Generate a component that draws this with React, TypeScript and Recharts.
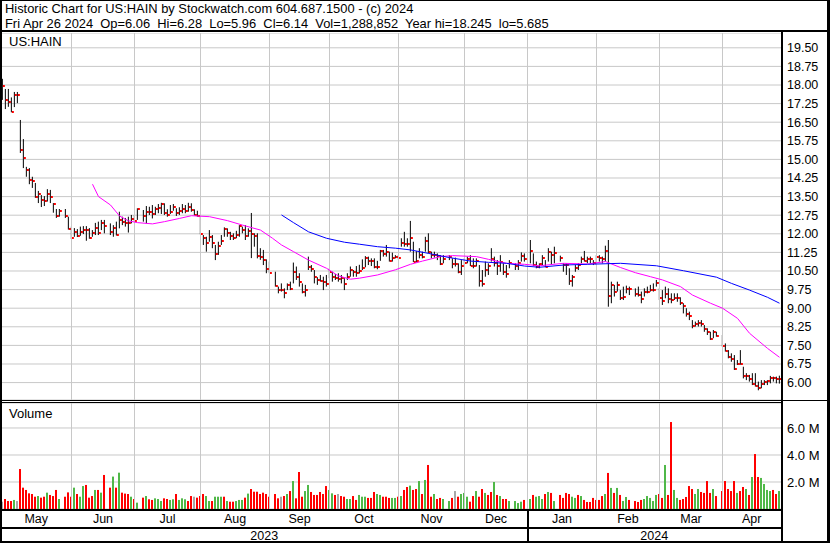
import React from "react";
import { ComposedChart, Bar, Line, XAxis, YAxis, CartesianGrid, ReferenceLine } from "recharts";

// one slot per weekday: 0 = Mon May 1 2023 ... 259 = Fri Apr 26 2024, null on US market holidays
const highs = [
  18.25, 17.84, 17.84, 17.5, 17.72, 17.72, 16.59, 15.82, 14.7, 14.65,
  14.3, 14.05, 13.73, 13.56, 13.52, 13.8, 13.77, 13.24, 13.0, 13.0,
  null, 13.0, 12.69, 12.29, 12.23, 12.19, 12.29, 12.31, 12.31, 12.23,
  12.15, 12.44, 12.49, 12.56, 12.56, null, 12.42, 12.35, 12.49, 12.89,
  12.69, 12.64, 12.69, 12.76, 12.76, 13.03, null, 12.96, 13.12, 13.09,
  13.16, 13.09, 13.2, 13.25, 13.23, 12.99, 13.16, 13.2, 13.03, 13.07,
  13.2, 13.16, 13.25, 13.23, 12.99, 12.93, 12.76, 11.95, 11.88, 12.15,
  11.95, 11.55, 11.68, 11.95, 12.26, 12.22, 12.08, 12.02, 12.12, 12.35,
  12.29, 12.35, 12.22, 12.84, 12.02, 12.02, 11.42, 11.35, 10.97, 10.88,
  null, 10.47, 9.87, 10.0, 9.8, 10.0, 10.07, 10.84, 10.68, 10.41,
  10.0, 9.94, 11.08, 10.74, 10.54, 10.25, 10.34, 10.27, 10.34, 10.61,
  10.47, 10.38, 10.41, 10.34, 10.21, 10.41, 10.68, 10.54, 10.7, 10.75,
  10.97, 11.1, 11.08, 11.01, 11.01, 10.91, 11.35, 11.35, 11.55, 11.28,
  11.24, 11.14, 11.14, 11.82, 12.08, 11.82, 12.52, 11.68, 11.3, 11.42,
  11.28, 11.88, 12.02, 11.28, 11.28, 11.21, 11.14, 11.14, null, 11.14,
  11.01, 11.04, 10.81, 10.94, 11.01, 11.08, 11.14, 11.01, 11.01, 10.74,
  10.54, 10.88, 10.81, 11.42, 11.08, 10.94, 11.14, 10.81, 10.74, 10.94,
  null, 10.81, 10.94, 11.25, 11.21, null, 11.75, 11.21, 10.88, 10.81,
  11.14, 10.94, 11.42, 11.28, 11.48, null, 11.12, 10.81, 10.81, 10.61,
  10.34, 10.74, 10.81, 11.08, 11.31, 11.08, 11.08, 10.94, 11.14, 11.14,
  11.08, 11.52, 11.75, 10.07, 9.94, 10.07, 9.73, 9.87, 9.91, 9.87,
  null, 9.8, 9.87, 9.67, 9.8, 9.87, 9.94, 10.0, 10.14, 9.8,
  9.73, 9.87, 9.8, 9.6, 9.6, 9.6, 9.44, 9.2, 9.0, 8.86,
  8.52, 8.46, 8.52, 8.52, 8.32, 8.19, 8.05, 8.12, 8.05, null,
  7.92, 7.58, 7.31, 7.18, 7.11, 6.91, 7.31, 6.64, 6.38, 6.31,
  6.38, 6.38, 6.04, 6.1, 6.1, 6.1, 6.27, 6.24, 6.24, 6.28,
];

const lows = [
  17.4, 17.03, 17.12, 16.9, 17.11, 17.27, 15.26, 14.65, 14.3, 14.0,
  13.85, 13.45, 13.24, 13.08, 13.12, 13.3, 13.24, 12.85, 12.64, 12.69,
  null, 12.64, 12.17, 11.79, 11.88, 11.87, 11.92, 11.99, 11.72, 11.8,
  11.88, 11.95, 11.95, 12.15, 12.02, null, 11.95, 11.88, 11.93, 12.22,
  12.35, 12.29, 12.05, 12.42, 12.49, 12.56, null, 12.49, 12.42, 12.76,
  12.62, 12.76, 12.83, 12.8, 12.76, 12.69, 12.8, 12.93, 12.72, 12.76,
  12.83, 12.83, 12.89, 12.89, 12.74, 12.69, 11.98, 11.55, 11.28, 11.68,
  11.42, 10.94, 11.15, 11.55, 11.88, 11.88, 11.75, 11.75, 11.82, 11.88,
  12.02, 11.75, 11.88, 11.02, 11.48, 11.01, 10.95, 10.74, 10.41, 10.41,
  null, 9.87, 9.6, 9.67, 9.4, 9.73, 9.73, 10.0, 10.14, 9.87,
  9.6, 9.47, 10.54, 10.47, 10.0, 9.94, 10.07, 9.73, 9.87, 10.21,
  10.07, 10.14, 10.07, 10.0, 9.73, 10.14, 10.27, 10.27, 10.27, 10.4,
  10.54, 10.65, 10.74, 10.7, 10.61, 10.57, 10.91, 11.08, 11.08, 10.88,
  10.88, 11.01, 10.97, 11.48, 11.48, 11.48, 11.28, 10.86, 10.85, 11.01,
  11.01, 11.28, 11.21, 11.01, 11.04, 10.94, 10.74, 10.81, null, 10.94,
  10.61, 10.68, 10.41, 10.34, 10.74, 10.81, 10.7, 10.61, 10.68, 9.87,
  9.87, 10.27, 10.34, 10.88, 10.68, 10.34, 10.47, 10.34, 10.23, 10.61,
  null, 10.54, 10.54, 10.88, 10.88, null, 10.81, 10.7, 10.61, 10.61,
  10.74, 10.65, 10.88, 10.74, 10.81, null, 10.88, 10.47, 10.34, 9.94,
  9.87, 10.47, 10.54, 10.81, 10.88, 10.81, 10.81, 10.74, 10.74, 10.88,
  10.81, 10.88, 9.06, 9.2, 9.47, 9.67, 9.33, 9.33, 9.6, 9.53,
  null, 9.47, 9.47, 9.2, 9.47, 9.6, 9.67, 9.67, 9.87, 9.33,
  9.13, 9.4, 9.2, 9.2, 9.33, 9.26, 9.13, 8.79, 8.66, 8.52,
  8.19, 8.26, 8.26, 8.26, 8.05, 7.92, 7.72, 7.79, 7.85, null,
  7.45, 7.25, 6.98, 6.84, 6.51, 6.71, 6.72, 6.17, 6.1, 6.04,
  5.9, 5.84, 5.69, 5.77, 5.9, 5.9, 5.97, 6.04, 5.97, 5.96,
];

const closes = [
  17.96, 17.4, 17.31, 16.91, 17.58, 17.58, 15.38, 15.06, 14.59, 14.17,
  14.11, 13.5, 13.6, 13.36, 13.32, 13.6, 13.5, 13.19, 12.73, 12.93,
  null, 12.7, 12.19, 11.85, 12.09, 11.93, 12.07, 12.15, 12.15, 11.83,
  12.03, 12.25, 12.05, 12.44, 12.31, null, 12.07, 12.25, 11.97, 12.56,
  12.48, 12.42, 12.42, 12.6, 12.52, 13.01, null, 12.73, 12.89, 12.88,
  12.8, 12.98, 13.04, 13.2, 12.82, 12.74, 12.86, 13.1, 12.82, 12.9,
  13.0, 12.92, 13.1, 12.96, 12.76, 12.7, 12.01, 11.85, 11.61, 11.87,
  11.61, 11.2, 11.52, 11.69, 12.19, 12.04, 11.91, 11.85, 11.95, 12.31,
  12.15, 11.93, 12.13, 12.01, 11.93, 11.11, 11.06, 10.94, 10.58, 10.43,
  null, 9.9, 9.73, 9.73, 9.62, 9.92, 9.77, 10.44, 10.27, 10.04,
  9.67, 9.75, 10.67, 10.6, 10.26, 10.14, 10.1, 10.04, 9.97, 10.44,
  10.24, 10.2, 10.17, 10.21, 9.97, 10.24, 10.55, 10.44, 10.4, 10.5,
  10.64, 11.04, 10.91, 10.91, 10.67, 10.67, 11.31, 11.2, 11.25, 10.91,
  11.02, 11.06, 11.04, 11.62, 11.6, 11.6, 11.84, 10.88, 10.9, 11.14,
  11.08, 11.69, 11.25, 11.14, 11.14, 11.1, 10.79, 11.0, null, 11.06,
  10.78, 10.78, 10.47, 10.7, 10.84, 10.98, 10.72, 10.7, 10.9, 10.1,
  9.98, 10.56, 10.7, 10.98, 10.82, 10.7, 10.86, 10.44, 10.38, 10.82,
  null, 10.7, 10.84, 11.1, 10.98, null, 11.29, 10.73, 10.68, 10.78,
  11.04, 10.68, 11.25, 11.15, 11.22, null, 11.04, 10.73, 10.73, 10.08,
  10.24, 10.62, 10.73, 10.98, 10.92, 10.98, 10.98, 10.84, 11.08, 11.04,
  10.98, 11.31, 9.5, 9.94, 9.65, 9.92, 9.43, 9.45, 9.79, 9.77,
  null, 9.57, 9.55, 9.39, 9.65, 9.65, 9.73, 9.73, 10.0, 9.43,
  9.3, 9.57, 9.37, 9.35, 9.43, 9.43, 9.2, 9.09, 8.76, 8.67,
  8.29, 8.36, 8.42, 8.36, 8.16, 8.02, 7.76, 8.02, 7.89, null,
  7.48, 7.27, 7.03, 6.96, 6.53, 6.75, 6.75, 6.25, 6.25, 6.14,
  5.94, 5.86, 5.8, 5.94, 6.03, 6.06, 6.18, 6.18, 6.14, 6.14,
];

// volume in millions of shares
const volumes = [
  0.54, 0.74, 0.59, 0.59, 0.67, 0.59, 2.96, 1.58, 1.41, 1.16,
  1.11, 0.91, 0.96, 0.84, 0.91, 1.21, 1.04, 0.96, 1.41, 0.74,
  null, 0.91, 1.23, 0.91, 1.58, 1.11, 0.91, 1.7, 1.78, 0.84,
  0.96, 1.41, 1.41, 1.21, 2.52, null, 1.58, 2.4, 1.58, 2.69,
  1.21, 1.14, 1.11, 0.91, 0.74, 0.47, null, 0.84, 0.96, 0.72,
  0.67, 0.79, 0.74, 0.59, 0.79, 0.74, 0.67, 0.72, 1.11, 0.67,
  0.79, 0.72, 0.59, 0.96, 0.91, 0.84, 0.96, 1.11, 0.96, 0.59,
  0.59, 0.91, 0.91, 0.91, 0.91, 0.59, 0.54, 0.54, 0.59, 0.67,
  0.67, 0.84, 1.14, 1.48, 1.28, 1.28, 1.11, 1.21, 1.11, 0.91,
  null, 1.11, 0.79, 0.91, 0.96, 1.11, 1.33, 2.07, 0.79, 2.74,
  0.91, 1.33, 1.78, 1.26, 1.04, 1.04, 1.26, 1.11, 1.7, 1.41,
  1.16, 1.04, 1.11, 0.96, 0.91, 0.74, 0.74, 0.96, 0.67, 1.04,
  0.91, 0.91, 0.82, 0.82, 1.26, 1.11, 1.04, 0.91, 0.91, 0.82,
  0.82, 0.82, 0.91, 0.96, 1.41, 1.63, 1.73, 1.41, 1.48, 2.07,
  1.11, 2.15, 3.26, 0.91, 1.11, 0.74, 0.82, 0.74, null, 0.59,
  0.82, 1.33, 0.91, 1.11, 1.19, 0.91, 0.54, 0.96, 1.33, 0.91,
  1.48, 1.19, 1.04, 1.26, 2.0, 1.04, 0.96, 0.74, 0.74, 0.59,
  null, 0.59, 0.44, 0.54, 0.67, null, 0.74, 1.04, 0.91, 0.96,
  0.74, 1.11, 1.26, 1.19, 0.59, null, 1.04, 0.82, 1.19, 1.11,
  0.91, 0.82, 1.04, 0.96, 0.67, 0.52, 0.52, 0.82, 0.67, 0.67,
  0.96, 1.11, 2.67, 1.56, 1.19, 1.56, 1.04, 0.59, 0.89, 0.67,
  null, 0.59, 0.52, 0.67, 0.74, 0.96, 0.82, 0.59, 1.04, 1.11,
  0.82, 3.26, 1.04, 6.44, 1.41, 0.82, 0.67, 0.74, 0.89, 1.7,
  1.48, 1.11, 1.48, 1.26, 1.19, 2.07, 1.19, 1.48, 0.96, null,
  1.33, 2.07, 1.48, 1.33, 2.07, 1.19, 1.33, 1.63, 1.48, 1.04,
  2.37, 4.07, 2.37, 2.3, 1.85, 1.41, 1.33, 1.41, 1.11, 1.33,
];

// u = up day, d = down day, n = unchanged, - = no trading
const volumeMoves = [
  "ndddundddd", "dduddudddu", "-ddduduudd", "dudud-dudu", "dddudu-dud",
  "duuudduudu", "uuddnddduu", "duuududduu", "ududdddddd", "-ddndududd",
  "duuddddddu", "udndduuddu", "uuddduuddd", "uududduddu", "dudduddu-u",
  "dnduuuddud", "duddududdu", "-uuud-uduu", "ududu-dddd", "uududddddd",
  "dudududuud", "-ddduuuuud", "dudduudddd", "duuddddud-", "ddddduddud",
  "udduuuuddu",
].join("");

// moving averages: [weekday index, value]
const fastAverage: [number, number][] = [
  [30, 14.0], [32, 13.5], [36, 13.16], [39, 12.72], [42, 12.52], [45, 12.45],
  [50, 12.4], [54, 12.49], [59, 12.62], [63, 12.73], [69, 12.69], [75, 12.53],
  [80, 12.35], [86, 12.15], [90, 11.82], [93, 11.55], [97, 11.28], [102, 10.94],
  [108, 10.61], [112, 10.3], [116, 10.17], [119, 10.21], [125, 10.34], [131, 10.55],
  [136, 10.77], [140, 10.9], [146, 11.08], [150, 11.12], [158, 11.08], [162, 10.97],
  [168, 10.81], [174, 10.77], [179, 10.71], [187, 10.81], [195, 10.78], [201, 10.88],
  [206, 10.64], [211, 10.43], [216, 10.27], [220, 10.14], [226, 9.87], [230, 9.53],
  [236, 9.2], [240, 9.0], [245, 8.59], [249, 7.99], [255, 7.38], [259, 7.02],
];

const slowAverage: [number, number][] = [
  [93, 12.76], [97, 12.45], [102, 12.08], [108, 11.82], [114, 11.66], [119, 11.58],
  [125, 11.48], [131, 11.42], [136, 11.35], [142, 11.21], [149, 11.04], [156, 10.9],
  [162, 10.85], [168, 10.81], [174, 10.7], [179, 10.65], [187, 10.74], [195, 10.77],
  [206, 10.81], [218, 10.71], [227, 10.51], [238, 10.25], [243, 10.0], [249, 9.73],
  [255, 9.44], [259, 9.2],
];

const priceTicks = [
  6.0, 6.75, 7.5, 8.25, 9.0, 9.75, 10.5, 11.25, 12.0, 12.75,
  13.5, 14.25, 15.0, 15.75, 16.5, 17.25, 18.0, 18.75, 19.5,
];
const volumeTicks = [2, 4, 6];

const monthNames = ["May", "Jun", "Jul", "Aug", "Sep", "Oct", "Nov", "Dec", "Jan", "Feb", "Mar", "Apr"];
const monthLines = [23, 44, 66, 89, 109, 132, 154, 175, 198, 219, 240];
const yearNames = ["2023", "2024"];
const yearBounds = [-0.5, 175, 259.5];

const title = "Historic Chart for US:HAIN by Stockwatch.com 604.687.1500 - (c) 2024";
const quoteLine = "Fri Apr 26 2024  Op=6.06  Hi=6.28  Lo=5.96  Cl=6.14  Vol=1,288,852  Year hi=18.245  lo=5.685";

const FONT = "'Liberation Sans', Arial, sans-serif";
const GRID = "#c8c8c8";
const X_DOMAIN: [number, number] = [-0.5, 259.5];

const rows = highs.map((h, i) => ({
  i,
  range: h == null ? null : [lows[i], h],
  hi: h,
  lo: lows[i],
  cl: closes[i],
  vol: volumes[i],
  move: volumeMoves[i],
  fast: undefined as number | undefined,
  slow: undefined as number | undefined,
}));
fastAverage.forEach(([i, v]) => (rows[i].fast = v));
slowAverage.forEach(([i, v]) => (rows[i].slow = v));

const bounds = [X_DOMAIN[0], ...monthLines, X_DOMAIN[1]];
const monthMid = monthNames.map((_, k) => (bounds[k] + bounds[k + 1]) / 2);

// pixel x of an index (plot runs 1..781, 3px per weekday)
const px = (i: number) => 1 + (i - X_DOMAIN[0]) * 3;

function PriceBar(props: any) {
  const { x, y, width, height, payload } = props;
  if (!payload || payload.hi == null) return null;
  const top = Math.min(y, y + height);
  const bot = Math.max(y, y + height);
  const cx = x + width / 2;
  const span = payload.hi - payload.lo;
  const cy = span > 0 ? top + ((payload.hi - payload.cl) / span) * (bot - top) : top;
  return (
    <g>
      <rect x={cx - 0.5} y={top} width={1} height={Math.max(1, bot - top)} fill="#000" />
      <rect x={cx + 0.5} y={Math.round(cy) - 1} width={2} height={2} fill="#ff0000" />
    </g>
  );
}

function VolumeBar(props: any) {
  const { x, y, width, height, payload } = props;
  if (!payload || payload.vol == null) return null;
  const cx = x + width / 2;
  const fill = payload.move === "u" ? "#50b848" : payload.move === "d" ? "#ff0000" : "#a8a8a8";
  return <rect x={Math.round(cx - 1.5)} y={y} width={2} height={height} fill={fill} />;
}

export default function App() {
  const tickStyle = { fill: "#000", fontSize: 12.5, fontFamily: FONT };
  return (
    <div style={{ position: "absolute", left: 0, top: 0, width: 830, height: 543, background: "#fff", overflow: "hidden", fontFamily: FONT }}>
      <div style={{ position: "absolute", left: 0, top: 33 }}>
        <ComposedChart width={830} height={367} data={rows} margin={{ top: 0, right: 0, bottom: 0, left: 1 }}>
          <XAxis type="number" dataKey="i" domain={X_DOMAIN} allowDataOverflow hide />
          <YAxis
            orientation="right"
            domain={[5.298, 20.097]}
            allowDataOverflow
            ticks={priceTicks}
            interval={0}
            width={49}
            axisLine={false}
            tickLine={false}
            tickSize={0}
            tickMargin={6}
            tick={tickStyle}
            tickFormatter={(v: number) => v.toFixed(2)}
          />
          <CartesianGrid vertical={false} stroke={GRID} />
          {monthLines.map((m) => (
            <ReferenceLine key={m} x={m} stroke={GRID} />
          ))}
          <Bar dataKey="range" barSize={3} shape={<PriceBar />} isAnimationActive={false} />
          <Line type="linear" dataKey="fast" stroke="#ff00ff" strokeWidth={1} dot={false} activeDot={false} connectNulls isAnimationActive={false} />
          <Line type="linear" dataKey="slow" stroke="#0000ff" strokeWidth={1} dot={false} activeDot={false} connectNulls isAnimationActive={false} />
        </ComposedChart>
      </div>

      <div style={{ position: "absolute", left: 0, top: 403 }}>
        <ComposedChart width={830} height={124} data={rows} margin={{ top: 0, right: 0, bottom: 0, left: 1 }}>
          <XAxis
            type="number"
            dataKey="i"
            domain={X_DOMAIN}
            allowDataOverflow
            ticks={monthMid}
            interval={0}
            height={18}
            axisLine={false}
            tickLine={false}
            tickSize={0}
            tickMargin={5}
            tick={tickStyle}
            tickFormatter={(v: number) => monthNames[monthMid.indexOf(v)] ?? ""}
          />
          <YAxis
            orientation="right"
            domain={[0, 7.85]}
            allowDataOverflow
            ticks={volumeTicks}
            interval={0}
            width={49}
            axisLine={false}
            tickLine={false}
            tickSize={0}
            tickMargin={6}
            tick={{ ...tickStyle, fontSize: 13 }}
            tickFormatter={(v: number) => `${v.toFixed(1)} M`}
          />
          <CartesianGrid vertical={false} stroke={GRID} />
          {monthLines.map((m) => (
            <ReferenceLine key={m} x={m} stroke={GRID} />
          ))}
          <Bar dataKey="vol" barSize={2} shape={<VolumeBar />} isAnimationActive={false} />
        </ComposedChart>
      </div>

      <svg width={830} height={543} style={{ position: "absolute", left: 0, top: 0, pointerEvents: "none" }}>
        <g fill="#000">
          <rect x={0} y={0} width={830} height={1} />
          <rect x={0} y={30} width={830} height={2} />
          <rect x={0} y={0} width={2} height={543} />
          <rect x={827} y={0} width={3} height={543} />
          <rect x={781} y={30} width={2} height={513} />
          <rect x={0} y={400} width={830} height={1} />
          <rect x={0} y={402} width={781} height={1} />
          <rect x={0} y={509} width={781} height={2} />
          <rect x={0} y={527} width={781} height={2} />
          <rect x={0} y={541} width={830} height={2} />
          <rect x={527} y={511} width={2} height={30} />
        </g>
        <g fontFamily={FONT} fill="#000">
          <text x={5} y={13} fontSize={12.9}>{title}</text>
          <text x={5} y={27.5} fontSize={12.9} style={{ whiteSpace: "pre" }}>{quoteLine}</text>
          <text x={9} y={46} fontSize={13}>US:HAIN</text>
          <text x={9} y={417.5} fontSize={13}>Volume</text>
          {yearNames.map((name, k) => (
            <text key={name} x={px((yearBounds[k] + yearBounds[k + 1]) / 2)} y={539.5} fontSize={12.5} textAnchor="middle">
              {name}
            </text>
          ))}
        </g>
      </svg>
    </div>
  );
}
